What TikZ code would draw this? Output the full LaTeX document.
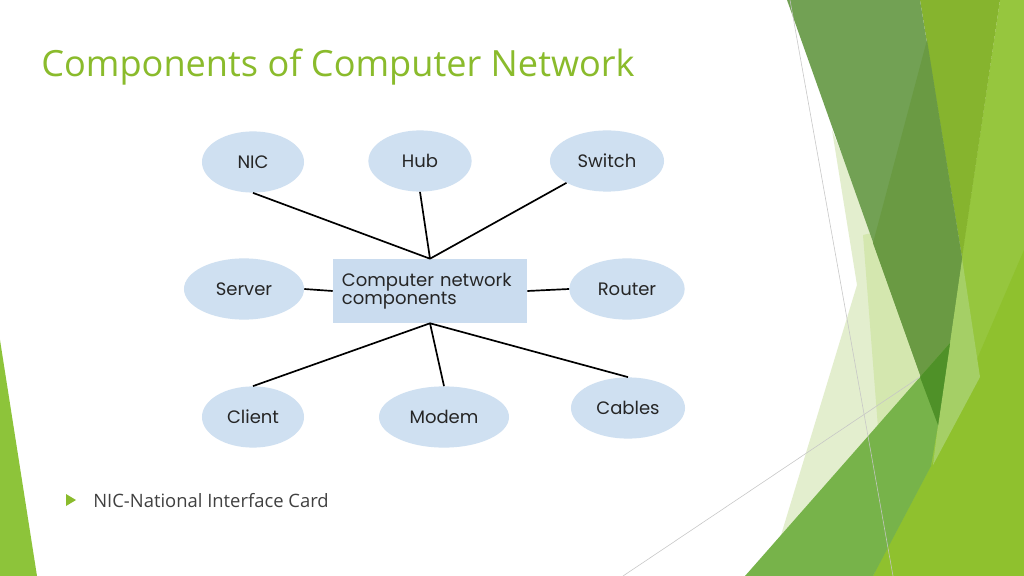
\documentclass[tikz,border=0pt]{standalone}
\usepackage{fontspec}
\setmainfont{Open Sans}
\newfontfamily\partfont{Poppins}
\usetikzlibrary{shapes.geometric}

\definecolor{titlegreen}{RGB}{138,187,44}
\definecolor{notegray}{RGB}{64,64,64}
\definecolor{partblue}{RGB}{207,224,241}
\definecolor{boxblue}{RGB}{202,220,239}
\definecolor{facetA}{RGB}{114,161,84}
\definecolor{facetB}{RGB}{106,154,67}
\definecolor{facetC}{RGB}{134,180,46}
\definecolor{facetD}{RGB}{150,198,62}
\definecolor{facetE}{RGB}{143,193,46}
\definecolor{facetF}{RGB}{119,179,74}
\definecolor{facetG}{RGB}{79,145,40}
\definecolor{facetH}{RGB}{165,207,102}
\definecolor{facetI}{RGB}{227,238,206}
\definecolor{facetJ}{RGB}{212,231,175}
\definecolor{sliver}{RGB}{141,196,58}

\tikzstyle{part}=[ellipse, fill=partblue, inner sep=0pt, minimum height=1.53cm, text=black!85, font=\partfont\fontsize{12.8}{15}\selectfont]
\tikzstyle{centre}=[rectangle, fill=boxblue, inner xsep=0.225cm, inner ysep=0pt, text width=4.4cm, minimum height=1.6cm, align=left, text=black!85, font=\partfont\fontsize{12.8}{13.2}\selectfont]

\begin{document}
\begin{tikzpicture}[x=0.025cm, y=-0.025cm]
    \useasboundingbox (0,0) rectangle (1024,576);
    \fill[white] (0,0) rectangle (1024,576);
    % facets on the right
    \fill[facetD] (1000,0) -- (1024,0) -- (1024,576) -- (873,576) -- (938,425) -- (962,255) -- cycle;
    \fill[facetE] (1024,250) -- (1024,576) -- (873,576) -- (931,466) -- cycle;
    \fill[facetH] (962,258) -- (980,377) -- (933,465) -- (938,425) -- cycle;
    \fill[facetC] (920,0) -- (1000,0) -- (962,258) -- cycle;
    \fill[facetI] (832,130) -- (857,285) -- (778,545) -- (900,500) -- (900,300) -- cycle;
    \fill[facetJ] (863,235) -- (878,428) -- (930,400) -- (885,230) -- cycle;
    \fill[facetA] (787,0) -- (920,0) -- (962,258) -- (938,425) -- cycle;
    \fill[facetB] (927,40) -- (962,258) -- (938,425) -- (873,243) -- cycle;
    \fill[facetF] (745,576) -- (950,343) -- (938,425) -- (931,466) -- (873,576) -- cycle;
    \fill[facetG] (920,377) -- (950,343) -- (938,425) -- cycle;
    \draw[gray!45, line width=0.4pt] (790,0) -- (893,576);
    \draw[gray!45, line width=0.4pt] (623,576) -- (920,377);
    % facet on the left
    \fill[sliver] (0,340) -- (37,576) -- (0,576) -- cycle;

    \node[anchor=base west, inner sep=0pt, text=titlegreen, font=\fontsize{25.7}{30}\selectfont] (title) at (41,77) {Components of Computer Network};
    \fill[titlegreen] (66,494) -- (76,500) -- (66,506) -- cycle;
    \node[anchor=base west, inner sep=0pt, text=notegray, font=\fontsize{13.1}{16}\selectfont] (note) at (93,507) {NIC-National Interface Card};

    \node[centre] (n0) at (430,291) {Computer network\\components};
    \node[part, minimum width=2.55cm] (n1) at (253,162) {NIC};
    \node[part, minimum width=2.58cm] (n2) at (420,161) {Hub};
    \node[part, minimum width=2.85cm] (n3) at (607,161) {Switch};
    \node[part, minimum width=3cm] (n4) at (244,289) {Server};
    \node[part, minimum width=2.88cm] (n5) at (627,289) {Router};
    \node[part, minimum width=2.55cm] (n6) at (253,417) {Client};
    \node[part, minimum width=3.25cm] (n7) at (444,417) {Modem};
    \node[part, minimum width=2.85cm] (n8) at (628,408) {Cables};
    \path[draw,very thick]
    (n1.south) edge (n0.north)
    (n2.south) edge (n0.north)
    (n3.south west) edge (n0.north)
    (n4.east) edge (n0.west)
    (n0.east) edge (n5.west)
    (n0.south) edge (n6.north)
    (n0.south) edge (n7.north)
    (n0.south) edge (n8.north)
    ;
\end{tikzpicture}
\end{document}
